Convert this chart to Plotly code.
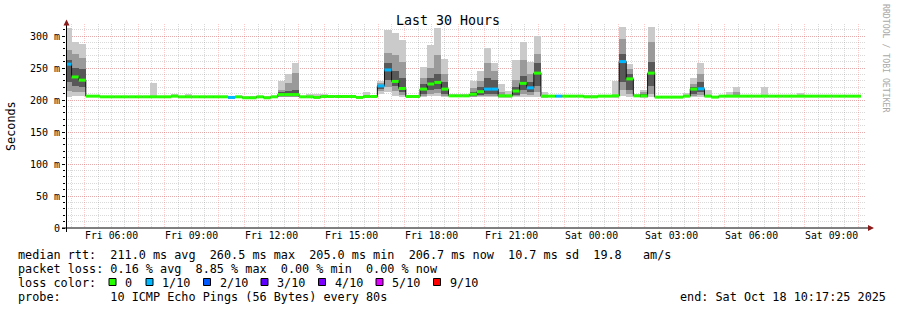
import plotly.graph_objects as go
from datetime import datetime, timedelta

# ---------------- data ----------------
bin_minutes = 16
bin0_start = datetime(2025, 10, 17, 4, 14, 0)
t_start = datetime(2025, 10, 17, 4, 17, 25)
t_end = datetime(2025, 10, 18, 10, 17, 25)

median_ms = [
    256, 236, 231, 206, 206, 205, 205, 205, 205, 205, 205, 205, 205, 205, 205, 206,
    205, 205, 205, 205, 205, 205, 205, 204, 205, 203.5, 203.5, 205, 203.5, 205, 208.5, 208.5,
    208.5, 205, 205, 204, 205.5, 205.5, 205.5, 205.5, 205.5, 204, 205.5, 205.5, 222, 247, 229, 218,
    205.5, 205.5, 217, 225, 227.5, 217, 206.5, 206.5, 206.5, 209, 213, 217, 217, 206.5, 206.5, 214,
    226, 219, 242, 206, 206, 206, 206, 206, 206, 205, 205, 206, 206, 206.5, 260, 233,
    206.5, 206.5, 242, 204.5, 204.5, 204.5, 204.5, 206, 217, 217.5, 206, 204.5, 206, 206, 206, 206,
    206, 206, 206, 206, 206, 206, 206, 206, 206, 206, 206, 206, 206, 206, 206, 206,
]

smoke_max = [
    312, 291, 288, 208, 208, 207, 207, 207, 207, 207, 207, 207, 226, 207, 207, 209,
    207, 209, 207, 207, 207, 207, 207, 206, 207, 206, 206, 207, 206, 207, 230, 240,
    258, 207, 209, 209, 209, 208, 207, 207, 207, 207, 213, 207, 229, 309, 304, 294,
    208, 208, 252, 286, 312, 264, 209, 209, 209, 230, 246, 282, 258, 225, 214, 262,
    291, 260, 300, 213, 208, 208, 208, 208, 208, 208, 208, 208, 208, 229, 314, 256,
    209, 216, 314, 207, 207, 207, 207, 211, 235, 258, 216, 207, 208, 212.5, 220, 208,
    208, 208, 220, 208, 208, 208, 208, 211, 208, 208, 208, 208, 208, 208, 208, 208,
]

smoke_min = [
    205, 206, 206, 204.5, 204.5, 204, 204, 204, 204, 204, 204, 204, 204, 204, 204, 204.5,
    204, 204, 204, 204, 204, 204, 204, 203, 204, 202.5, 202.5, 204, 202.5, 204, 204, 204,
    204, 204, 204, 203, 204.5, 204.5, 204.5, 204.5, 204.5, 203, 204.5, 204.5, 210, 212, 207, 205,
    204.5, 204.5, 205, 206, 206, 205, 205.5, 205.5, 205.5, 204, 205, 205, 205, 203, 203, 204,
    205, 205, 205, 203, 205, 205, 205, 205, 205, 204, 204, 205, 205, 203, 206, 205,
    205.5, 203, 204, 203.5, 203.5, 203.5, 203.5, 205, 205, 205, 205, 203.5, 205, 205, 204, 205,
    205, 205, 205, 205, 205, 205, 205, 205, 205, 205, 205, 205, 205, 205, 205, 205,
]

loss_count = [0] * 112
for k in (0, 23, 44, 45, 59, 60, 65, 69, 78, 89):
    loss_count[k] = 1

# inner smoke bands for the bins with visible structure
ev_bins = [0, 1, 2, 30, 31, 32, 44, 45, 46, 47, 50, 51, 52, 53, 57, 58, 59, 60, 61,
           63, 64, 65, 66, 78, 79, 81, 82, 88, 89, 94]
ev_hi2 = [278, 272, 265, 216, 226, 242, 226, 273, 270, 260, 235, 250, 270, 240, 218, 230, 258, 245, 212,
          232, 262, 240, 272, 295, 248, 213, 290, 225, 240, 212]
ev_hi3 = [262, 250, 248, 212, 214, 215, 224, 258, 245, 235, 225, 235, 240, 228, 212, 220, 235, 232, 208,
          220, 238, 228, 258, 272, 240, 210, 260, 220, 228, 208]
ev_lo3 = [228, 222, 220, 206, 207, 207, 217, 231, 222, 212, 210, 215, 217, 210, 206, 208, 210, 210, 205,
          208, 215, 212, 222, 228, 215, 205, 222, 210, 212, 205]
ev_lo2 = [214, 212, 212, 205, 205, 205, 214, 220, 214, 208, 207, 210, 211, 207, 205, 206, 207, 207, 204,
          206, 210, 208, 212, 215, 209, 204, 210, 207, 208, 204]

y_tick_vals = [0, 50, 100, 150, 200, 250, 300]
y_tick_text = ["0", "50 m", "100 m", "150 m", "200 m", "250 m", "300 m"]

loss_levels = [0, 1, 2, 3, 4, 5, 9]
loss_labels = ["0", "1/10", "2/10", "3/10", "4/10", "5/10", "9/10"]
loss_colors = ["#26ff00", "#00b8ff", "#0059ff", "#5e00ff", "#7e00ff", "#dd00ff", "#ff0000"]

legend_rtt = "median rtt:  211.0 ms avg  260.5 ms max  205.0 ms min  206.7 ms now  10.7 ms sd  19.8   am/s"
legend_loss = "packet loss: 0.16 % avg  8.85 % max  0.00 % min  0.00 % now"
legend_probe = "probe:       10 ICMP Echo Pings (56 Bytes) every 80s"
legend_end = "end: Sat Oct 18 10:17:25 2025"

# ---------------- layout helpers ----------------
W, H = 897, 310
ML, MR, MT, MB = 66, 31, 24, 82
PW = W - ML - MR
PH = H - MT - MB
Y_TOP = 318.75
FONT = "DejaVu Sans Mono"


def px(x):
    return (x - ML) / PW


def py(y):
    return (H - MB - y) / PH


def nb(s):
    return s.replace(" ", "\u00a0")


n = len(median_ms)
starts = [bin0_start + timedelta(minutes=bin_minutes * k) for k in range(n)]
ends = [s + timedelta(minutes=bin_minutes) for s in starts]
centers = [s + timedelta(minutes=bin_minutes / 2) for s in starts]
bw = bin_minutes * 60 * 1000

fig = go.Figure()

# outer smoke
fig.add_trace(go.Bar(x=centers, y=[hi - lo for hi, lo in zip(smoke_max, smoke_min)], base=smoke_min,
                     width=bw, marker=dict(color="#cacaca", line=dict(width=0)),
                     hoverinfo="skip", showlegend=False))
ev_centers = [centers[k] for k in ev_bins]
fig.add_trace(go.Bar(x=ev_centers, y=[hi - lo for hi, lo in zip(ev_hi2, ev_lo2)], base=ev_lo2,
                     width=bw, marker=dict(color="#9a9a9a", line=dict(width=0)),
                     hoverinfo="skip", showlegend=False))
fig.add_trace(go.Bar(x=ev_centers, y=[hi - lo for hi, lo in zip(ev_hi3, ev_lo3)], base=ev_lo3,
                     width=bw, marker=dict(color="#585858", line=dict(width=0)),
                     hoverinfo="skip", showlegend=False))

# median step line (black)
fig.add_trace(go.Scatter(x=starts + [ends[-1]], y=median_ms + [median_ms[-1]], mode="lines",
                         line=dict(color="#101010", width=1, shape="hv"),
                         hoverinfo="skip", showlegend=False))


def level_index(c):
    idx = 0
    for i, lv in enumerate(loss_levels):
        if c >= lv:
            idx = i
    return idx


for i, col in enumerate(loss_colors):
    xs, ys = [], []
    for k in range(n):
        if level_index(loss_count[k]) == i:
            xs += [starts[k], ends[k], None]
            ys += [median_ms[k], median_ms[k], None]
    if xs:
        fig.add_trace(go.Scatter(x=xs, y=ys, mode="lines", line=dict(color=col, width=3),
                                 hoverinfo="skip", showlegend=False))

# dummy trace on label axis
fig.add_trace(go.Scatter(x=[t_start, t_end], y=[None, None], xaxis="x2", yaxis="y",
                         mode="markers", hoverinfo="skip", showlegend=False))

red_grid = "rgba(255,60,60,0.28)"
gray_grid = "rgba(120,120,120,0.28)"

fig.update_layout(
    width=W, height=H,
    margin=dict(l=ML, r=MR, t=MT, b=MB, pad=0),
    paper_bgcolor="white", plot_bgcolor="white",
    barmode="overlay", bargap=0,
    showlegend=False,
    xaxis=dict(type="date", range=[t_start, t_end], tickmode="linear",
               tick0="2025-10-17 05:00:00", dtick=3600000, showticklabels=False,
               showgrid=True, gridcolor=red_grid, griddash="1px,1px", gridwidth=1,
               minor=dict(tick0="2025-10-17 04:30:00", dtick=1800000, showgrid=True,
                          gridcolor=gray_grid, griddash="1px,1px", gridwidth=1),
               zeroline=False, showline=False, ticks="", fixedrange=True),
    xaxis2=dict(type="date", range=[t_start, t_end], overlaying="x", anchor="y", side="bottom",
                tickmode="linear", tick0="2025-10-17 00:00:00", dtick=3 * 3600000,
                tickformat="%a %H:%M", showgrid=False, zeroline=False, showline=False,
                ticks="", tickfont=dict(family=FONT, size=9.8, color="black")),
    yaxis=dict(range=[0, Y_TOP], tickmode="array", tickvals=y_tick_vals, ticktext=y_tick_text,
               showgrid=True, gridcolor=red_grid, griddash="1px,1px", gridwidth=1,
               minor=dict(tickmode="linear", tick0=0, dtick=10, showgrid=True,
                          gridcolor=gray_grid, griddash="1px,1px", gridwidth=1,
                          ticks="outside", ticklen=2, tickcolor="black"),
               ticks="outside", ticklen=3, tickcolor="black",
               zeroline=False, showline=False,
               tickfont=dict(family=FONT, size=10, color="black")),
)

shapes = []
# axis lines
shapes.append(dict(type="line", xref="paper", yref="paper", x0=px(66.5), x1=px(66.5), y0=py(232), y1=py(22),
                   line=dict(color="black", width=1)))
shapes.append(dict(type="line", xref="paper", yref="paper", x0=px(62), x1=px(869), y0=py(228), y1=py(228),
                   line=dict(color="black", width=1)))
# arrows
shapes.append(dict(type="path", xref="paper", yref="paper",
                   path=f"M {px(63.5)},{py(25.5)} L {px(69.5)},{py(25.5)} L {px(66.5)},{py(19.5)} Z",
                   fillcolor="#8b1a1a", line=dict(width=0)))
shapes.append(dict(type="path", xref="paper", yref="paper",
                   path=f"M {px(868)},{py(225)} L {px(868)},{py(231)} L {px(874)},{py(228)} Z",
                   fillcolor="#8b1a1a", line=dict(width=0)))
# loss colour boxes
box_x = [109] + [146 + 57.5 * (i - 1) for i in range(1, len(loss_colors))]
for bx, col in zip(box_x, loss_colors):
    shapes.append(dict(type="rect", xref="paper", yref="paper", x0=px(bx), x1=px(bx + 7),
                       y0=py(285.5), y1=py(278.5), fillcolor=col, line=dict(color="black", width=1)))
fig.update_layout(shapes=shapes)

ann = []


def text_at(x, y, s, size=11.8, xanchor="left", color="black", angle=0):
    ann.append(dict(xref="paper", yref="paper", x=px(x), y=py(y), text=nb(s), showarrow=False,
                    xanchor=xanchor, yanchor="middle", textangle=angle,
                    font=dict(family=FONT, size=size, color=color)))


text_at(448, 20, "Last 30 Hours", size=13.3, xanchor="center")
text_at(11, 126, "Seconds", size=11.8, xanchor="center", angle=-90)
text_at(886, 59, "RRDTOOL / TOBI OETIKER", size=8.2, xanchor="center", color="#a8a8a8", angle=90)
text_at(16, 254.5, legend_rtt)
text_at(16, 268.5, legend_loss)
text_at(16, 282.5, "loss color:")
for bx, lab in zip(box_x, loss_labels):
    text_at(bx + 14, 282.5, lab)
text_at(16, 296.5, legend_probe)
text_at(678, 296.5, legend_end)
fig.update_layout(annotations=ann)

fig.write_html("out.html")
